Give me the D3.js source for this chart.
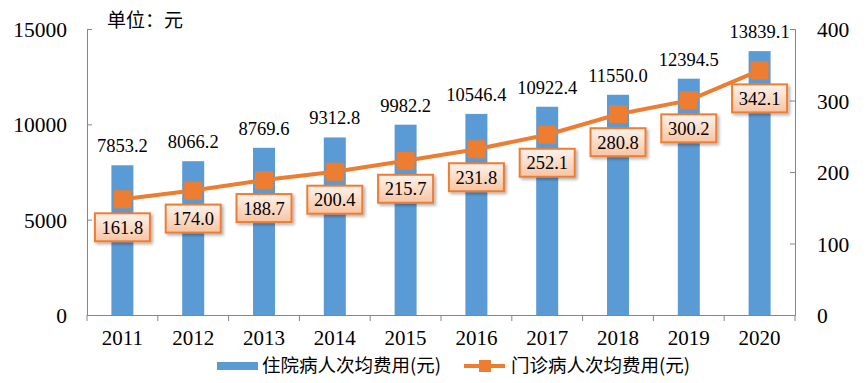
<!DOCTYPE html>
<html><head><meta charset="utf-8">
<script src="https://cdn.jsdelivr.net/npm/d3@7"></script>
<style>body{margin:0;background:#fff}svg{display:block}
.sf{font-family:"Liberation Serif","Times New Roman","DejaVu Serif",serif}
.cj{font-family:"Noto Sans CJK SC","Noto Sans",sans-serif}
</style>
</head><body>
<script>
const years = ["2011","2012","2013","2014","2015","2016","2017","2018","2019","2020"];
const inpatient = [7853.2,8066.2,8769.6,9312.8,9982.2,10546.4,10922.4,11550.0,12394.5,13839.1];
const outpatient = [161.8,174.0,188.7,200.4,215.7,231.8,252.1,280.8,300.2,342.1];
const leftTicks = [0,5000,10000,15000];
const rightTicks = [0,100,200,300,400];
const seriesNames = ["住院病人次均费用(元)","门诊病人次均费用(元)"];
const unitLabel = "单位：元";

const W=866,H=383;
const svg=d3.select("body").append("svg").attr("width",W).attr("height",H);
const defs=svg.append("defs");
const grad=defs.append("linearGradient").attr("id","g").attr("x1",0).attr("y1",0).attr("x2",0).attr("y2",1);
grad.append("stop").attr("offset","0%").attr("stop-color","#FEF3EC");
grad.append("stop").attr("offset","100%").attr("stop-color","#F8C4A2");
const f=defs.append("filter").attr("id","sh").attr("x","-20%").attr("y","-20%").attr("width","150%").attr("height","160%");
f.append("feDropShadow").attr("dx",2).attr("dy",2).attr("stdDeviation",1.5).attr("flood-color","#000").attr("flood-opacity",0.3);

const x0=87,x1=795,yTop=29,yBot=315;
const x=d3.scaleBand().domain(years).range([x0,x1]);
const yL=d3.scaleLinear().domain([0,15000]).range([yBot,yTop]);
const yR=d3.scaleLinear().domain([0,400]).range([yBot,yTop]);
const axisColor="#868686";

const bw=22;
svg.selectAll("rect.bar").data(inpatient).enter().append("rect")
 .attr("x",(d,i)=>x(years[i])+x.bandwidth()/2-bw/2).attr("width",bw)
 .attr("y",d=>yL(d)).attr("height",d=>yBot-yL(d)).attr("fill","#5B9BD5");

const gl=svg.append("g").attr("transform",`translate(${x0},0)`).call(d3.axisLeft(yL).tickValues(leftTicks).tickSize(-5).tickPadding(20).tickFormat(d3.format("d")));
const gr=svg.append("g").attr("transform",`translate(${x1},0)`).call(d3.axisRight(yR).tickValues(rightTicks).tickSize(-5).tickPadding(22).tickFormat(d3.format("d")));
const gx=svg.append("g").attr("transform",`translate(0,${yBot})`).call(d3.axisBottom(x).tickSize(0).tickPadding(15));
const bnd=years.map(y=>x(y)).concat([x1]);
svg.append("g").selectAll("line").data(bnd).enter().append("line")
 .attr("x1",d=>d).attr("x2",d=>d).attr("y1",yBot).attr("y2",yBot+6).attr("stroke",axisColor);
[gl,gr,gx].forEach(g=>{
  g.attr("font-family",null);
  g.selectAll("path.domain,line").attr("stroke",axisColor);
  g.selectAll("text").attr("class","sf").attr("font-size",21.5).attr("fill","#000");
});
gl.selectAll("text").attr("dy","0.35em");
gr.selectAll("text").attr("dy","0.35em");
gx.selectAll("text").attr("font-size",21).attr("dy","0.71em");

svg.selectAll("text.bl").data(inpatient).enter().append("text").attr("class","sf")
 .attr("x",(d,i)=>x(years[i])+x.bandwidth()/2).attr("y",d=>yL(d)-13)
 .attr("text-anchor","middle").attr("font-size",18.5).text(d=>d.toFixed(1));

const cx=(i)=>x(years[i])+x.bandwidth()/2;
svg.append("path").datum(outpatient).attr("fill","none").attr("stroke","#ED7D31").attr("stroke-width",4)
 .attr("d",d3.line().x((d,i)=>cx(i)).y(d=>yR(d)));
svg.selectAll("rect.m").data(outpatient).enter().append("rect")
 .attr("x",(d,i)=>cx(i)-9).attr("y",d=>yR(d)-9).attr("width",18).attr("height",18).attr("fill","#ED7D31");

const lb=svg.selectAll("g.lb").data(outpatient).enter().append("g")
 .attr("transform",(d,i)=>`translate(${cx(i)},${yR(d)+28})`);
lb.append("rect").attr("x",-27.5).attr("y",-14).attr("width",55).attr("height",28)
 .attr("fill","url(#g)").attr("stroke","#ED7D31").attr("stroke-width",2).attr("filter","url(#sh)");
lb.append("text").attr("class","sf").attr("text-anchor","middle").attr("dy","0.35em").attr("font-size",18.5).text(d=>d.toFixed(1));

svg.append("text").attr("class","cj").attr("x",107).attr("y",27).attr("font-size",19).text(unitLabel);

const ly=366;
svg.append("rect").attr("x",217).attr("y",ly-4).attr("width",41).attr("height",8).attr("fill","#5B9BD5");
svg.append("text").attr("class","cj").attr("x",262).attr("y",ly).attr("dy","0.35em").attr("font-size",18.5).text(seriesNames[0]);
svg.append("line").attr("x1",464).attr("x2",505).attr("y1",ly).attr("y2",ly).attr("stroke","#ED7D31").attr("stroke-width",4);
svg.append("rect").attr("x",479).attr("y",ly-6).attr("width",12).attr("height",12).attr("fill","#ED7D31");
svg.append("text").attr("class","cj").attr("x",511).attr("y",ly).attr("dy","0.35em").attr("font-size",18.5).text(seriesNames[1]);
</script>
</body></html>
